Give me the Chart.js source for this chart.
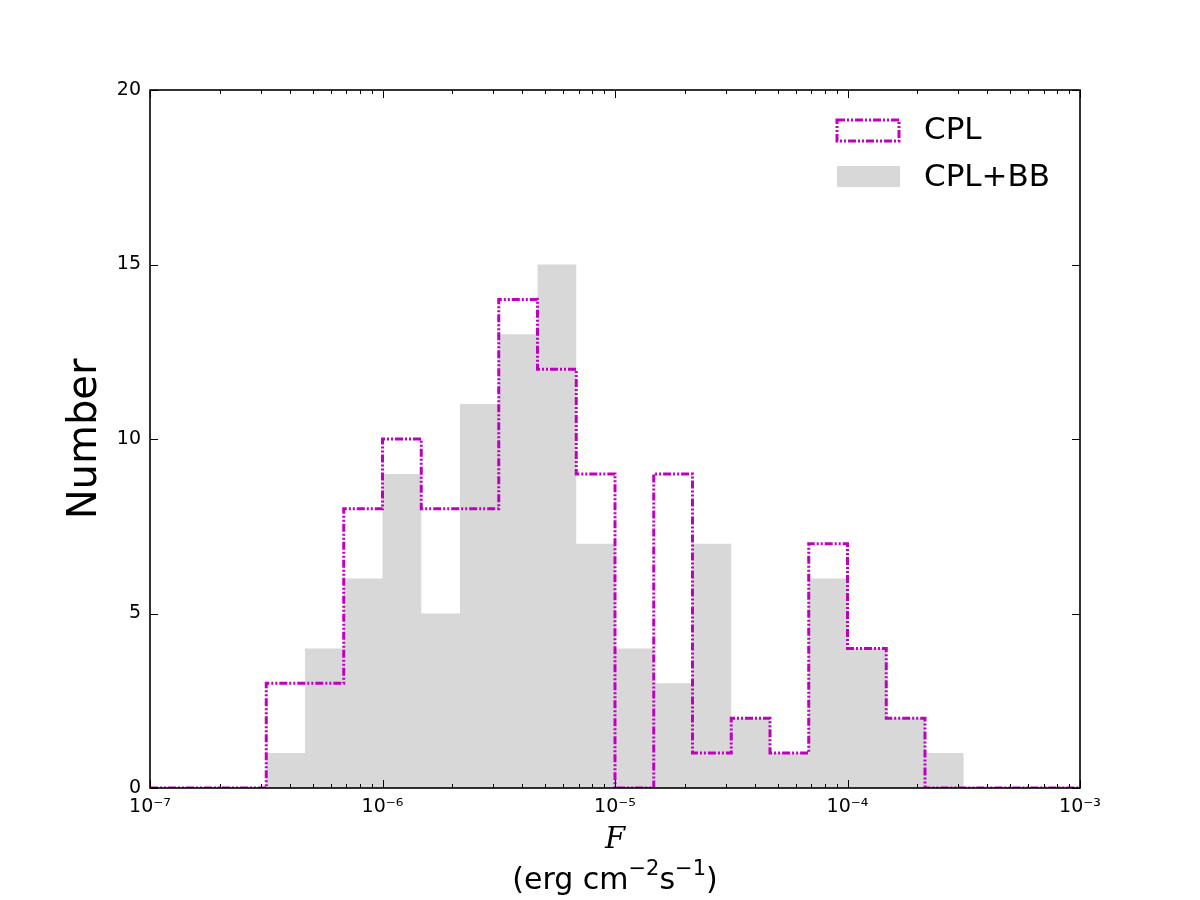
<!DOCTYPE html>
<html>
<head>
<meta charset="utf-8">
<script src="https://cdn.jsdelivr.net/npm/chart.js@4.4.0/dist/chart.umd.min.js"></script>
<style>
  html, body { margin: 0; padding: 0; background: #fff; }
  #wrap { width: 1200px; height: 900px; }
</style>
</head>
<body>
<div id="wrap"><canvas id="histChart" width="1200" height="900"></canvas></div>
<script>
// log10 of the bin edges (6 bins per decade)
var binEdgeExps = [-6.5, -6.3333, -6.1667, -6, -5.8333, -5.6667, -5.5, -5.3333, -5.1667,
  -5, -4.8333, -4.6667, -4.5, -4.3333, -4.1667, -4, -3.8333, -3.6667, -3.5];
var cplCounts = [3, 3, 8, 10, 8, 8, 14, 12, 9, 0, 9, 1, 2, 1, 7, 4, 2, 0];
var cplbbCounts = [1, 4, 6, 9, 5, 11, 13, 15, 7, 4, 3, 7, 2, 1, 6, 4, 2, 1];
var xTickExps = [-7, -6, -5, -4, -3];
var yTickValues = [0, 5, 10, 15, 20];
var seriesNames = ["CPL", "CPL+BB"];

var supers = { "-": "\u207b", "0": "\u2070", "1": "\u00b9", "2": "\u00b2", "3": "\u00b3",
  "4": "\u2074", "5": "\u2075", "6": "\u2076", "7": "\u2077", "8": "\u2078", "9": "\u2079" };
function powLabel(e) {
  return "10" + String(e).split("").map(function (c) { return supers[c]; }).join("");
}

function stepPoints(counts, from, to) {
  var pts = [];
  if (from !== undefined) pts.push({ x: from, y: 0 });
  pts.push({ x: Math.pow(10, binEdgeExps[0]), y: 0 });
  for (var i = 0; i < counts.length; i++) {
    pts.push({ x: Math.pow(10, binEdgeExps[i]), y: counts[i] });
  }
  pts.push({ x: Math.pow(10, binEdgeExps[binEdgeExps.length - 1]), y: 0 });
  if (to !== undefined) pts.push({ x: to, y: 0 });
  return pts;
}

var magenta = "#bf00bf";
var gray = "#d8d8d8";
var dashStyle = [8, 2, 2, 2, 2, 2];

// ticks, frame, legend and axis labels in matplotlib classic look
var decorPlugin = {
  id: "decor",
  afterDraw: function (chart) {
    var c = chart.ctx, a = chart.chartArea;
    var xs = chart.scales.x, ys = chart.scales.y;
    c.save();
    c.strokeStyle = "#000";
    c.lineWidth = 1;
    xs.ticks.forEach(function (t) {
      var px = Math.round(xs.getPixelForValue(t.value)) + 0.5;
      var len = t.major ? 8 : 4;
      c.beginPath();
      c.moveTo(px, a.bottom); c.lineTo(px, a.bottom - len);
      c.moveTo(px, a.top); c.lineTo(px, a.top + len);
      c.stroke();
    });
    ys.ticks.forEach(function (t) {
      var py = Math.round(ys.getPixelForValue(t.value)) + 0.5;
      c.beginPath();
      c.moveTo(a.left, py); c.lineTo(a.left + 8, py);
      c.moveTo(a.right, py); c.lineTo(a.right - 8, py);
      c.stroke();
    });
    c.lineWidth = 1.6;
    c.strokeRect(a.left, a.top, a.right - a.left, a.bottom - a.top);

    // legend
    c.lineWidth = 3;
    c.strokeStyle = magenta;
    c.setLineDash(dashStyle);
    c.strokeRect(837, 120, 62, 21);
    c.setLineDash([]);
    c.fillStyle = gray;
    c.fillRect(837, 166, 63, 21);
    c.fillStyle = "#000";
    c.font = "31px 'DejaVu Sans'";
    c.textBaseline = "middle";
    c.textAlign = "left";
    c.fillText(seriesNames[0], 924, 131);
    c.fillText(seriesNames[1], 924, 178);

    // y label
    c.save();
    c.translate(86, 439);
    c.rotate(-Math.PI / 2);
    c.textAlign = "center";
    c.font = "40px 'DejaVu Sans'";
    c.fillText("Number", 0, 0);
    c.restore();

    // x label
    var cx = (a.left + a.right) / 2;
    c.textAlign = "center";
    c.font = "italic 29px 'DejaVu Serif'";
    c.fillText("F", cx, 840);
    var parts = [["(erg cm", 0], ["\u22122", 1], ["s", 0], ["\u22121", 1], [")", 0]];
    var big = "30px 'DejaVu Sans'", small = "21px 'DejaVu Sans'";
    var total = 0;
    parts.forEach(function (p) { c.font = p[1] ? small : big; total += c.measureText(p[0]).width; });
    var x = cx - total / 2;
    c.textAlign = "left";
    parts.forEach(function (p) {
      c.font = p[1] ? small : big;
      c.fillText(p[0], x, p[1] ? 870 : 881);
      x += c.measureText(p[0]).width;
    });
    c.restore();
  }
};

Chart.defaults.font.family = "'DejaVu Sans'";
Chart.defaults.color = "#000";

var ctx = document.getElementById("histChart");
var histChart = new Chart(ctx, {
  type: "line",
  data: {
    datasets: [
      {
        label: seriesNames[0],
        data: stepPoints(cplCounts, Math.pow(10, xTickExps[0]), Math.pow(10, xTickExps[xTickExps.length - 1])),
        stepped: "before",
        borderWidth: 3,
        borderColor: magenta,
        borderDash: dashStyle,
        backgroundColor: "rgba(0,0,0,0)",
        fill: false,
        pointRadius: 0,
      },
      {
        label: seriesNames[1],
        data: stepPoints(cplbbCounts),
        stepped: "before",
        borderWidth: 0,
        borderColor: "rgba(0,0,0,0)",
        backgroundColor: gray,
        fill: "origin",
        pointRadius: 0,
      },
    ],
  },
  options: {
    responsive: false,
    animation: false,
    layout: { padding: { left: 0, top: 90, right: 120, bottom: 0 } },
    plugins: { legend: { display: false }, tooltip: { enabled: false } },
    scales: {
      x: {
        type: "logarithmic",
        min: Math.pow(10, xTickExps[0]),
        max: Math.pow(10, xTickExps[xTickExps.length - 1]),
        grid: { display: false },
        border: { display: false },
        afterBuildTicks: function (scale) {
          var t = [];
          for (var e = xTickExps[0]; e <= xTickExps[xTickExps.length - 1]; e++) {
            for (var k = 1; k <= 9; k++) {
              if (e === xTickExps[xTickExps.length - 1] && k > 1) break;
              t.push({ value: k * Math.pow(10, e), major: k === 1 });
            }
          }
          scale.ticks = t;
        },
        afterFit: function (scale) { scale.height = 112; },
        ticks: {
          autoSkip: false,
          maxRotation: 0,
          padding: 0,
          font: { size: 19 },
          callback: function (v) {
            var e = Math.round(Math.log10(v));
            return Math.abs(v - Math.pow(10, e)) < 1e-3 * v ? powLabel(e) : "";
          },
        },
      },
      y: {
        min: yTickValues[0],
        max: yTickValues[yTickValues.length - 1],
        grid: { display: false },
        border: { display: false },
        afterFit: function (scale) { scale.width = 150; },
        afterBuildTicks: function (scale) {
          scale.ticks = yTickValues.map(function (v) { return { value: v }; });
        },
        ticks: { padding: 1, font: { size: 19 } },
      },
    },
  },
  plugins: [decorPlugin],
});
</script>
</body>
</html>
